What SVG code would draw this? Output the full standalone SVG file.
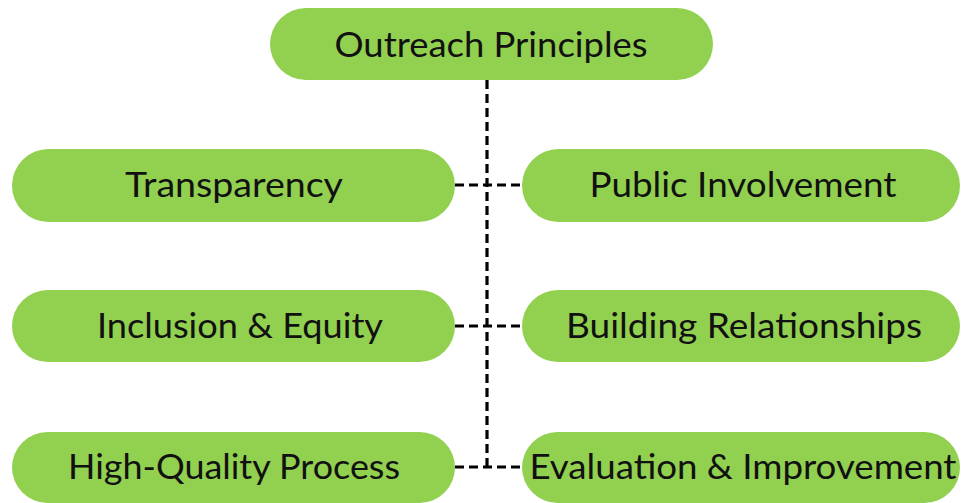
<svg xmlns="http://www.w3.org/2000/svg" width="963" height="503" viewBox="0 0 963 503">
<style>
.n{fill:#92d050;}
.t{font-family:Lato,"Open Sans","Liberation Sans",sans-serif;font-size:35px;fill:#111;text-anchor:middle;}
.c{stroke:#000;stroke-width:3.2;stroke-dasharray:9 5;fill:none;}
</style>
<rect width="963" height="503" fill="#fff"/>
<g id="connectors">
<path class="c" d="M487 80 V467"/>
<path class="c" d="M455 185 H522"/>
<path class="c" d="M455 326 H522"/>
<path class="c" d="M455 467 H522"/>
</g>
<g id="root"><rect class="n" x="270" y="8" width="443" height="72" rx="36"/><text class="t" x="491" y="57" textLength="313" lengthAdjust="spacingAndGlyphs">Outreach Principles</text></g>
<g id="transparency"><rect class="n" x="12" y="149" width="443" height="73" rx="36.5"/><text class="t" x="234" y="197" textLength="218" lengthAdjust="spacingAndGlyphs">Transparency</text></g>
<g id="public"><rect class="n" x="522" y="149" width="438" height="73" rx="36.5"/><text class="t" x="743" y="197" textLength="307" lengthAdjust="spacingAndGlyphs">Public Involvement</text></g>
<g id="inclusion"><rect class="n" x="12" y="290" width="443" height="72" rx="36"/><text class="t" x="240" y="338" textLength="286" lengthAdjust="spacingAndGlyphs">Inclusion &amp; Equity</text></g>
<g id="building"><rect class="n" x="522" y="290" width="438" height="72" rx="36"/><text class="t" x="744" y="338" textLength="356" lengthAdjust="spacingAndGlyphs">Building Relationships</text></g>
<g id="quality"><rect class="n" x="12" y="432" width="443" height="71" rx="35.5"/><text class="t" x="234" y="479" textLength="332" lengthAdjust="spacingAndGlyphs">High-Quality Process</text></g>
<g id="evaluation"><rect class="n" x="522" y="432" width="438" height="71" rx="35.5"/><text class="t" x="743" y="479" textLength="427" lengthAdjust="spacingAndGlyphs">Evaluation &amp; Improvement</text></g>
</svg>
